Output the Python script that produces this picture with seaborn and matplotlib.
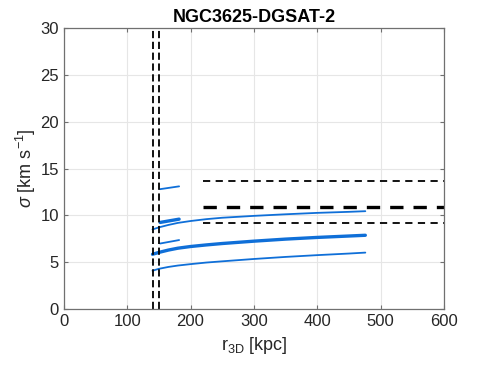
import numpy as np
import pandas as pd
import matplotlib
matplotlib.use("Agg")
import matplotlib.pyplot as plt
import seaborn as sns

sns.set_style('ticks')
plt.rcParams['font.family'] = ['Liberation Sans', 'DejaVu Sans']
plt.rcParams['mathtext.fontset'] = 'custom'
plt.rcParams['mathtext.rm'] = 'Liberation Sans'
plt.rcParams['mathtext.it'] = 'Liberation Sans:italic'

# model curves
r_model = [140, 150, 165, 180, 200, 225, 250, 300, 350, 400, 450, 476]
sig_upper = [8.5, 8.72, 8.98, 9.2, 9.4, 9.6, 9.75, 9.95, 10.12, 10.27, 10.38, 10.45]
sig_mid = [5.85, 6.05, 6.3, 6.5, 6.68, 6.85, 7.0, 7.25, 7.47, 7.65, 7.8, 7.88]
sig_lower = [4.1, 4.3, 4.5, 4.65, 4.8, 4.97, 5.1, 5.35, 5.57, 5.76, 5.93, 6.03]

# short segments
r_short = [152, 182]
seg_top = [12.8, 13.1]
seg_mid = [9.25, 9.6]
seg_low = [7.0, 7.37]

# observed dispersion (central value and bounds)
sig_obs = 10.9
sig_obs_hi = 13.65
sig_obs_lo = 9.2
r_obs_start = 220

# distance limits
r_lines = [141, 150]

blue = '#0f6fd8'

fig = plt.figure(figsize=(4.91, 3.68), dpi=100)
ax = fig.add_axes([0.130, 0.160, 0.774, 0.764])

df = pd.DataFrame({'r': r_model, 'hi': sig_upper, 'mid': sig_mid, 'lo': sig_lower})
sns.lineplot(data=df, x='r', y='hi', ax=ax, color=blue, lw=1.3)
sns.lineplot(data=df, x='r', y='mid', ax=ax, color=blue, lw=2.4)
sns.lineplot(data=df, x='r', y='lo', ax=ax, color=blue, lw=1.3)

ax.plot(r_short, seg_top, color=blue, lw=1.3)
ax.plot(r_short, seg_mid, color=blue, lw=2.4)
ax.plot(r_short, seg_low, color=blue, lw=1.3)

ax.plot([r_obs_start, 600], [sig_obs_hi] * 2, color='black', lw=1.3, ls=(0, (4, 3)))
ax.plot([r_obs_start, 600], [sig_obs] * 2, color='black', lw=2.4, ls=(0, (4, 3)))
ax.plot([r_obs_start, 600], [sig_obs_lo] * 2, color='black', lw=1.3, ls=(0, (4, 3)))

for xv in r_lines:
    ax.axvline(xv, color='black', lw=1.3, ls=(0, (4, 2)))

ax.set_xlim(0, 600)
ax.set_ylim(0, 30)
ax.set_xticks(range(0, 601, 100))
ax.set_yticks(range(0, 31, 5))
ax.grid(True, color='#e6e6e6', lw=0.8)
ax.set_axisbelow(True)
for s in ax.spines.values():
    s.set_color('#707070')
    s.set_linewidth(0.9)
ax.tick_params(direction='in', length=3, labelsize=12, colors='#707070',
               labelcolor='#262626', top=True, right=True)

ax.set_xlabel('r$_{\\mathrm{3D}}$ [kpc]', fontsize=13, labelpad=4)
ax.set_ylabel('$\\sigma$ [km s$^{\\mathrm{-1}}$]', fontsize=13, labelpad=2)
ax.set_title('NGC3625-DGSAT-2', fontsize=13, fontweight='bold', pad=4, color='black')

fig.savefig('out.png', dpi=100)
